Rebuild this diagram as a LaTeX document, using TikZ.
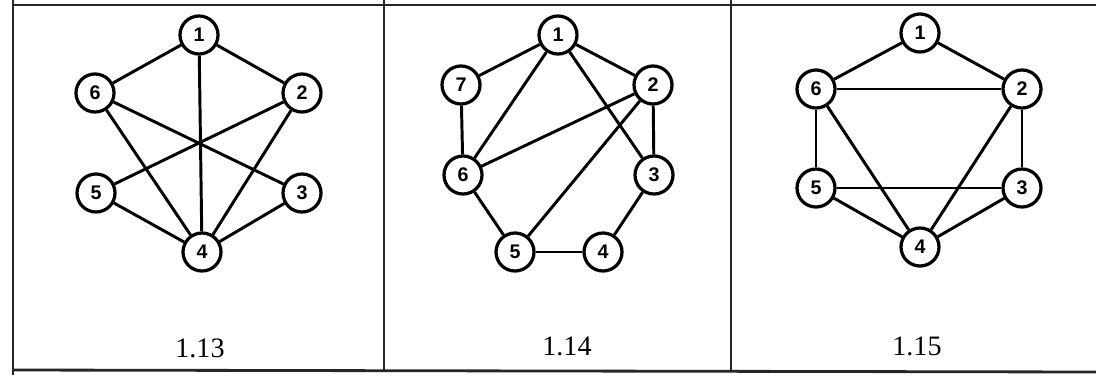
\documentclass[tikz,border=0pt]{standalone}
\usepackage{fontspec}
\setmainfont{Liberation Serif}
\newfontfamily\vertexfont{Liberation Sans}
\usepackage{tikz}
\usetikzlibrary{positioning}

\tikzset{
  vertex/.style={circle, draw, line width=2.3pt, fill=white, minimum size=0.95cm,
    inner sep=0pt, font=\vertexfont\bfseries\fontsize{14}{14}\selectfont},
  edge/.style={line width=2.1pt},
  frameline/.style={line width=2pt, black!85},
  caption/.style={font=\fontsize{20}{20}\selectfont}
}

\begin{document}
\begin{tikzpicture}[x=0.025cm, y=-0.025cm]

\useasboundingbox (0,0) rectangle (1096,375);

% ---- Table frame ----
\draw[frameline] (13,5) -- (1096,5);
\draw[frameline] (13,370) -- (1096,372);
\draw[frameline] (13,0) -- (13,375);
\draw[frameline] (384,0) -- (384,372);
\draw[frameline] (731,0) -- (731,372);

% ---- Graph 1.13 ----
\node[vertex] (a1) at (199,35) {1};
\node[vertex] (a6) at (95,93) {6};
\node[vertex] (a2) at (302,93) {2};
\node[vertex] (a5) at (96,193) {5};
\node[vertex] (a3) at (302,193) {3};
\node[vertex] (a4) at (202,252) {4};

\draw[edge] (a1) -- (a6);
\draw[edge] (a1) -- (a2);
\draw[edge] (a1) -- (a4);
\draw[edge] (a6) -- (a3);
\draw[edge] (a6) -- (a4);
\draw[edge] (a2) -- (a5);
\draw[edge] (a2) -- (a4);
\draw[edge] (a5) -- (a4);
\draw[edge] (a3) -- (a4);

\node[caption] (c13) at (200,348) {1.13};

% ---- Graph 1.14 ----
\node[vertex] (b1) at (558,35) {1};
\node[vertex] (b7) at (461,85) {7};
\node[vertex] (b2) at (653,85) {2};
\node[vertex] (b6) at (463,175) {6};
\node[vertex] (b3) at (654,175) {3};
\node[vertex] (b5) at (515,252) {5};
\node[vertex] (b4) at (603,252) {4};

\draw[edge] (b1) -- (b7);
\draw[edge] (b1) -- (b2);
\draw[edge] (b1) -- (b6);
\draw[edge] (b1) -- (b3);
\draw[edge] (b7) -- (b6);
\draw[edge] (b2) -- (b6);
\draw[edge] (b2) -- (b5);
\draw[edge] (b2) -- (b3);
\draw[edge] (b6) -- (b5);
\draw[edge] (b5) -- (b4);
\draw[edge] (b3) -- (b4);

\node[caption] (c14) at (567,346) {1.14};

% ---- Graph 1.15 ----
\node[vertex] (d1) at (920,33) {1};
\node[vertex] (d6) at (816,89) {6};
\node[vertex] (d2) at (1022,89) {2};
\node[vertex] (d5) at (816,188) {5};
\node[vertex] (d3) at (1022,188) {3};
\node[vertex] (d4) at (920,247) {4};

\draw[edge] (d1) -- (d6);
\draw[edge] (d1) -- (d2);
\draw[edge] (d6) -- (d2);
\draw[edge] (d6) -- (d5);
\draw[edge] (d6) -- (d4);
\draw[edge] (d2) -- (d4);
\draw[edge] (d2) -- (d3);
\draw[edge] (d5) -- (d3);
\draw[edge] (d5) -- (d4);
\draw[edge] (d3) -- (d4);

\node[caption] (c15) at (917,346) {1.15};

\end{tikzpicture}
\end{document}
